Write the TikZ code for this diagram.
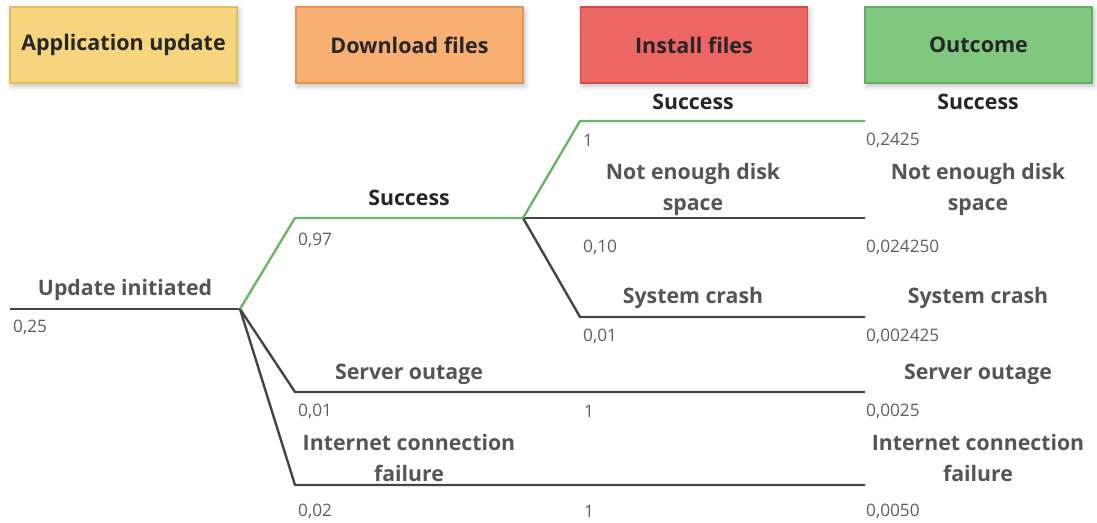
\documentclass[tikz,border=0pt]{standalone}
\usepackage{fontspec}
\setmainfont{Open Sans}
\usetikzlibrary{shadows.blur}
\definecolor{hdrtext}{HTML}{262626}
\definecolor{lbltext}{HTML}{555555}
\definecolor{numtext}{HTML}{5E5E5E}
\definecolor{linegray}{HTML}{444444}
\definecolor{linegreen}{HTML}{66B866}
\definecolor{yfill}{HTML}{F7D47E}\definecolor{ydraw}{HTML}{E3BC5E}
\definecolor{ofill}{HTML}{F7AF72}\definecolor{odraw}{HTML}{E29656}
\definecolor{rfill}{HTML}{EC6663}\definecolor{rdraw}{HTML}{D04A48}
\definecolor{gfill}{HTML}{80C780}\definecolor{gdraw}{HTML}{62AD62}
\tikzset{
  hdr/.style={draw=#1draw, fill=#1fill, line width=1.2pt, minimum width=227pt, minimum height=76pt,
    inner sep=0pt, text=hdrtext, font=\fontsize{21.5}{24}\selectfont\bfseries,
    blur shadow={shadow xshift=2pt, shadow yshift=-3pt, shadow blur radius=5pt, shadow opacity=25}},
  lbl/.style={text=lbltext, font=\fontsize{21.3}{31}\selectfont\bfseries, align=center, inner sep=0pt},
  lbldark/.style={lbl, text=hdrtext},
  num/.style={text=numtext, font=\fontsize{17.2}{20}\selectfont, anchor=west, inner sep=0pt},
  gline/.style={draw=linegray, line width=2.4pt, line join=round},
  grline/.style={draw=linegreen, line width=2.4pt, line join=round},
}
\begin{document}
\begin{tikzpicture}[x=1pt,y=-1pt]
\useasboundingbox (0,0) rectangle (1097,522);
% headers
\node[hdr=y] (h1) at (123.5,45) {Application update};
\node[hdr=o] (h2) at (409.5,45) {Download files};
\node[hdr=r] (h3) at (694,45) {Install files};
\node[hdr=g] (h4) at (978.5,45) {Outcome};
% coordinates
\coordinate (start) at (10,309);
\coordinate (root) at (240,309);
\coordinate (dsA) at (295,218);
\coordinate (dsB) at (523,218);
\coordinate (soA) at (295,392);
\coordinate (soB) at (865,392);
\coordinate (icA) at (295,485);
\coordinate (icB) at (865,485);
\coordinate (isA) at (580,121);
\coordinate (isB) at (865,121);
\coordinate (ndB) at (865,218);
\coordinate (scA) at (580,317);
\coordinate (scB) at (865,317);
% lines
\draw[gline] (start) -- (root);
\draw[gline] (root) -- (soA) -- (soB);
\draw[gline] (root) -- (icA) -- (icB);
\draw[gline] (dsB) -- (ndB);
\draw[gline] (dsB) -- (scA) -- (scB);
\draw[grline] (root) -- (dsA) -- (dsB);
\draw[grline] (dsB) -- (isA) -- (isB);
% labels
\node[lbl] (l0) at (125,290) {Update initiated};
\node[num] (n0) at (13,327) {0,25};
\node[lbldark] (l1) at (409,198) {Success};
\node[num] (n1) at (298,240) {0,97};
\node[lbl] (l2) at (409,374) {Server outage};
\node[num] (n2) at (298,411) {0,01};
\node[num] (n2b) at (584,411) {1};
\node[lbl] (l3) at (409,458) {Internet connection\\failure};
\node[num] (n3) at (298,511) {0,02};
\node[num] (n3b) at (584,511) {1};
\node[lbldark] (l4) at (693,102) {Success};
\node[num] (n4) at (583,140) {1};
\node[lbl] (l5) at (693,189) {Not enough disk\\space};
\node[num] (n5) at (583,247) {0,10};
\node[lbl] (l6) at (693,298) {System crash};
\node[num] (n6) at (583,336) {0,01};
% outcomes
\node[lbldark] (o1) at (978,102) {Success};
\node[num] (m1) at (866,140) {0,2425};
\node[lbl] (o2) at (978,189) {Not enough disk\\space};
\node[num] (m2) at (866,247) {0,024250};
\node[lbl] (o3) at (978,298) {System crash};
\node[num] (m3) at (866,336) {0,002425};
\node[lbl] (o4) at (978,374) {Server outage};
\node[num] (m4) at (866,411) {0,0025};
\node[lbl] (o5) at (978,458) {Internet connection\\failure};
\node[num] (m5) at (866,511) {0,0050};
\end{tikzpicture}
\end{document}
